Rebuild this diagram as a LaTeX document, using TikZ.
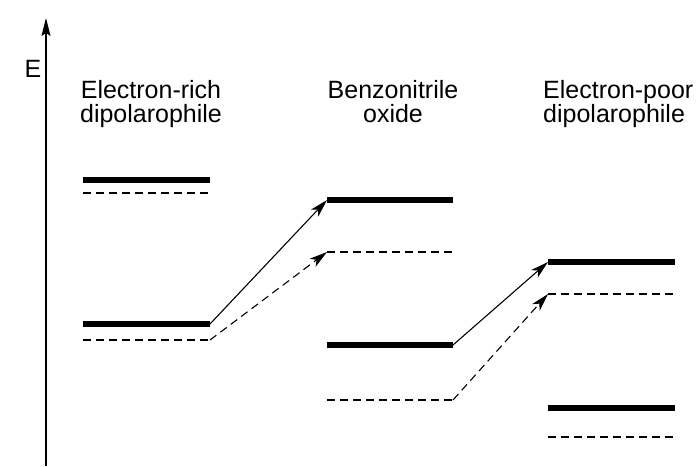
\documentclass[tikz,border=0pt]{standalone}
\usepackage{fontspec}
\setmainfont{Liberation Sans}
\usetikzlibrary{arrows.meta}
\begin{document}
\begin{tikzpicture}[x=1pt,y=-1pt,
  occ/.style={line width=5.5pt},
  emp/.style={line width=1.4pt,dash pattern=on 8pt off 5pt},
  conn/.style={line width=1.1pt,-{Stealth[length=18pt,width=10pt,inset=5pt]}},
  dconn/.style={line width=1.1pt,dash pattern=on 8pt off 5pt,-{Stealth[length=18pt,width=10pt,inset=5pt]}},
  lab/.style={font=\fontsize{25}{24}\selectfont,align=center,inner sep=0pt}]
\useasboundingbox (0,0) rectangle (696,466);
% axis
\coordinate (ab) at (46,466);
\coordinate (at) at (46,18);
\draw[line width=1.2pt,-{Stealth[length=18pt,width=9pt,inset=3pt]}] (ab) -- (at);
\node[lab,anchor=base] (E) at (33,77) {E};
% labels
\node[lab,anchor=base] (l1a) at (151,98) {Electron-rich};
\node[lab,anchor=base] (l1b) at (151,122) {dipolarophile};
\node[lab,anchor=base] (l2a) at (393,98) {Benzonitrile};
\node[lab,anchor=base] (l2b) at (393,122) {oxide};
\node[lab,anchor=base west] (l3a) at (543,98) {Electron-poor};
\node[lab,anchor=base west] (l3b) at (543,122) {dipolarophile};
% left levels
\coordinate (A1l) at (83,180); \coordinate (A1r) at (210,180);
\coordinate (A2l) at (83,193); \coordinate (A2r) at (210,193);
\coordinate (A3l) at (83,324); \coordinate (A3r) at (210,324);
\coordinate (A4l) at (83,340); \coordinate (A4r) at (210,340);
% middle
\coordinate (B1l) at (327,200); \coordinate (B1r) at (453,200);
\coordinate (B2l) at (327,252); \coordinate (B2r) at (453,252);
\coordinate (B3l) at (327,345); \coordinate (B3r) at (453,345);
\coordinate (B4l) at (327,400); \coordinate (B4r) at (453,400);
% right
\coordinate (C1l) at (548,262); \coordinate (C1r) at (675,262);
\coordinate (C2l) at (548,294); \coordinate (C2r) at (675,294);
\coordinate (C3l) at (548,408); \coordinate (C3r) at (675,408);
\coordinate (C4l) at (548,437); \coordinate (C4r) at (675,437);
\draw[occ] (A1l) -- (A1r); \draw[emp] (A2l) -- (A2r);
\draw[occ] (A3l) -- (A3r); \draw[emp] (A4l) -- (A4r);
\draw[occ] (B1l) -- (B1r); \draw[emp] (B2l) -- (B2r);
\draw[occ] (B3l) -- (B3r); \draw[emp] (B4l) -- (B4r);
\draw[occ] (C1l) -- (C1r); \draw[emp] (C2l) -- (C2r);
\draw[occ] (C3l) -- (C3r); \draw[emp] (C4l) -- (C4r);
% connectors
\draw[conn] (A3r) -- (B1l);
\draw[dconn] (A4r) -- (B2l);
\draw[conn] (B3r) -- (C1l);
\draw[dconn] (B4r) -- (C2l);
\end{tikzpicture}
\end{document}
